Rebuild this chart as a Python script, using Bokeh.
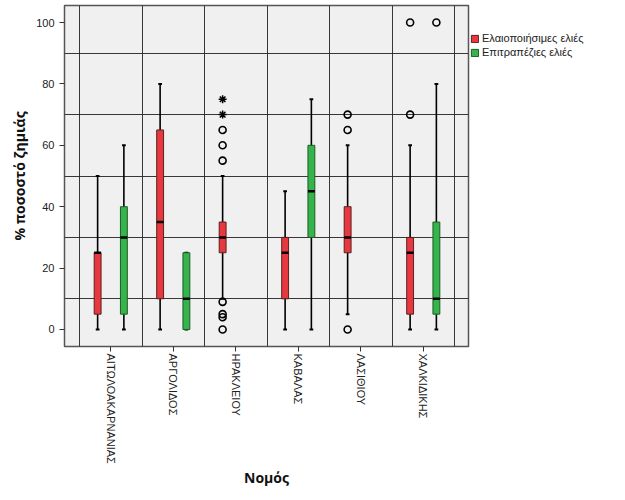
import math
from bokeh.plotting import figure
from bokeh.layouts import row
from bokeh.models import Range1d, FixedTicker, Legend, LegendItem, ColumnDataSource
from bokeh.embed import file_html
from bokeh.resources import INLINE

nomoi = ["ΑΙΤΩΛΟΑΚΑΡΝΑΝΙΑΣ", "ΑΡΓΟΛΙΔΟΣ", "ΗΡΑΚΛΕΙΟΥ", "ΚΑΒΑΛΑΣ", "ΛΑΣΙΘΙΟΥ", "ΧΑΛΚΙΔΙΚΗΣ"]
series_names = ["Ελαιοποιήσιμες ελιές", "Επιτραπέζιες ελιές"]

# Ελαιοποιήσιμες (red)
red_low = [0, 0, 10, 0, 5, 0]
red_q1 = [5, 10, 25, 10, 25, 5]
red_med = [25, 35, 30, 25, 30, 25]
red_q3 = [25, 65, 35, 30, 40, 30]
red_high = [50, 80, 50, 45, 60, 60]
red_out_cat = [2, 2, 2, 2, 2, 2, 2, 4, 4, 4, 5, 5]
red_out_val = [55, 60, 65, 9, 5, 4, 0, 65, 70, 0, 70, 100]
red_ext_cat = [2, 2]
red_ext_val = [70, 75]

# Επιτραπέζιες (green) - only for some nomoi
green_cat = [0, 1, 3, 5]
green_low = [0, 0, 0, 0]
green_q1 = [5, 0, 30, 5]
green_med = [30, 10, 45, 10]
green_q3 = [40, 25, 60, 35]
green_high = [60, 25, 75, 80]
green_out_cat = [5]
green_out_val = [100]

RED = "#E8383F"
GREEN = "#35B44B"
RED_EDGE = "#5a2020"
GREEN_EDGE = "#1f5a28"
OFF = 0.21
BW = 0.11
CAP = 0.03

p = figure(width=470, height=500, output_backend="svg", toolbar_location=None,
           x_range=Range1d(0.26, 6.724), y_range=Range1d(-5.54, 105.54),
           min_border_left=64, min_border_right=2, min_border_top=5, min_border_bottom=154)
p.background_fill_color = "#F0F0F0"
p.border_fill_color = "white"
p.outline_line_color = "#555555"
p.outline_line_width = 1.5

p.xgrid.ticker = FixedTicker(ticks=[i + 0.5 for i in range(7)])
p.ygrid.ticker = FixedTicker(ticks=[10, 30, 50, 70, 90])
for g in (p.xgrid, p.ygrid):
    g.grid_line_color = "#222222"
    g.grid_line_width = 1
    g.grid_line_alpha = 0.9

p.xaxis.ticker = FixedTicker(ticks=[1, 2, 3, 4, 5, 6])
p.xaxis.major_label_overrides = {i + 1: n for i, n in enumerate(nomoi)}
p.xaxis.major_label_orientation = -math.pi / 2
p.yaxis.ticker = FixedTicker(ticks=[0, 20, 40, 60, 80, 100])
for ax in (p.xaxis, p.yaxis):
    ax.axis_line_color = None
    ax.major_tick_in = 0
    ax.major_tick_out = 5
    ax.minor_tick_line_color = None
    ax.major_tick_line_color = "#333333"
    ax.major_label_text_font = "Liberation Sans"
    ax.major_label_text_font_size = "11px"
    ax.major_label_text_color = "#222222"
    ax.axis_label_text_font = "Open Sans"
    ax.axis_label_text_font_style = "bold"
    ax.axis_label_text_font_size = "14px"
    ax.axis_label_text_color = "#111111"
p.xaxis.axis_label = "Νομός"
p.yaxis.axis_label = "% ποσοστό ζημιάς"
p.xaxis.major_label_standoff = 2
p.xaxis.axis_label_standoff = 1
p.yaxis.axis_label_standoff = 4


def draw(cats, low, q1, med, q3, high, offset, color, edge):
    xs = [c + 1 + offset for c in cats]
    src = ColumnDataSource(dict(x=xs, low=low, q1=q1, med=med, q3=q3, high=high,
                                xl=[x - CAP for x in xs], xr=[x + CAP for x in xs],
                                ml=[x - BW / 2 for x in xs], mr=[x + BW / 2 for x in xs]))
    p.segment(x0="x", y0="low", x1="x", y1="high", source=src, line_color="black", line_width=1.6)
    p.segment(x0="xl", y0="low", x1="xr", y1="low", source=src, line_color="black", line_width=2)
    p.segment(x0="xl", y0="high", x1="xr", y1="high", source=src, line_color="black", line_width=2)
    p.vbar(x="x", bottom="q1", top="q3", width=BW, source=src, fill_color=color,
           line_color=edge, line_width=1)
    p.segment(x0="ml", y0="med", x1="mr", y1="med", source=src, line_color="black", line_width=2.5)


draw(list(range(6)), red_low, red_q1, red_med, red_q3, red_high, -OFF, RED, RED_EDGE)
draw(green_cat, green_low, green_q1, green_med, green_q3, green_high, OFF, GREEN, GREEN_EDGE)

p.scatter([c + 1 - OFF for c in red_out_cat], red_out_val, marker="circle", size=7,
          fill_color=None, line_color="black", line_width=1.6)
p.scatter([c + 1 - OFF for c in red_ext_cat], red_ext_val, marker="asterisk", size=8,
          line_color="black", line_width=1.5)
p.scatter([c + 1 + OFF for c in green_out_cat], green_out_val, marker="circle", size=7,
          fill_color=None, line_color="black", line_width=1.6)

# Legend panel (separate figure to the right of the chart)
q = figure(width=155, height=500, output_backend="svg", toolbar_location=None,
           x_range=Range1d(0, 1), y_range=Range1d(0, 1), x_axis_type=None, y_axis_type=None,
           min_border=0)
q.outline_line_color = None
q.background_fill_color = "white"
q.xgrid.visible = False
q.ygrid.visible = False
# proxy glyphs for the legend swatches, placed outside the visible range
lr = q.vbar(x=[10], bottom=[9], top=[10], width=0.1, fill_color=RED, line_color=RED_EDGE)
lg = q.vbar(x=[10], bottom=[9], top=[10], width=0.1, fill_color=GREEN, line_color=GREEN_EDGE)
legend = Legend(items=[LegendItem(label=series_names[0], renderers=[lr], index=0),
                       LegendItem(label=series_names[1], renderers=[lg], index=0)],
                location="top_left", orientation="vertical")
legend.title = "\u00a0"
legend.title_text_font_size = "11px"
legend.title_standoff = 15
legend.border_line_color = None
legend.background_fill_alpha = 0
legend.label_text_font = "Liberation Sans"
legend.label_text_font_size = "11px"
legend.label_text_color = "#222222"
legend.glyph_width = 9
legend.glyph_height = 9
legend.label_standoff = 3
legend.spacing = 2
legend.padding = 1
legend.margin = 0
legend.label_height = 12
q.add_layout(legend, "center")

layout = row(p, q)
open("out.html", "w").write(file_html(layout, INLINE))
